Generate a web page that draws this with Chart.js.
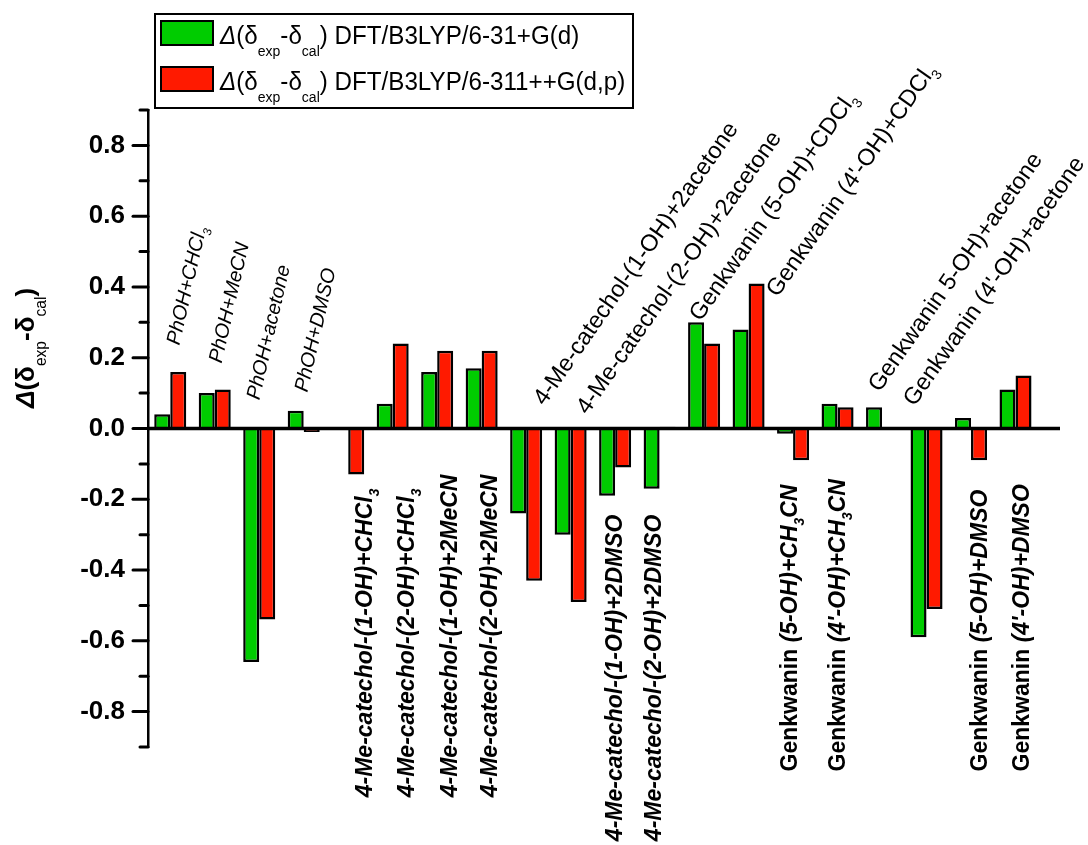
<!DOCTYPE html>
<html>
<head>
<meta charset="utf-8">
<script src="https://cdn.jsdelivr.net/npm/chart.js@4.4.1/dist/chart.umd.min.js"></script>
<style>
  html, body { margin: 0; padding: 0; background: #fff; }
  #wrap { width: 1088px; height: 845px; position: relative; }
</style>
</head>
<body>
<div id="wrap"><canvas id="chart"></canvas></div>
<script>
const FONT = '"Liberation Sans", Arial, sans-serif';

// data
const categories = [
  'PhOH+CHCl₃', 'PhOH+MeCN', 'PhOH+acetone', 'PhOH+DMSO',
  '4-Me-catechol-(1-OH)+CHCl₃', '4-Me-catechol-(2-OH)+CHCl₃',
  '4-Me-catechol-(1-OH)+2MeCN', '4-Me-catechol-(2-OH)+2MeCN',
  '4-Me-catechol-(1-OH)+2acetone', '4-Me-catechol-(2-OH)+2acetone',
  '4-Me-catechol-(1-OH)+2DMSO', '4-Me-catechol-(2-OH)+2DMSO',
  'Genkwanin (5-OH)+CDCl₃', "Genkwanin (4'-OH)+CDCl₃",
  'Genkwanin (5-OH)+CH₃CN', "Genkwanin (4'-OH)+CH₃CN",
  'Genkwanin 5-OH)+acetone', "Genkwanin (4'-OH)+acetone",
  'Genkwanin (5-OH)+DMSO', "Genkwanin (4'-OH)+DMSO"
];
const b3lyp631 = [0.04, 0.10, -0.66, 0.05, null, 0.07, 0.16, 0.17, -0.24, -0.30,
                  -0.19, -0.17, 0.30, 0.28, -0.015, 0.07, 0.06, -0.59, 0.03, 0.11];
const b3lyp6311 = [0.16, 0.11, -0.54, -0.01, -0.13, 0.24, 0.22, 0.22, -0.43, -0.49,
                   -0.11, 0.005, 0.24, 0.41, -0.09, 0.06, null, -0.51, -0.09, 0.15];
const yMin = -0.9, yMax = 0.9, yStep = 0.1;

// where each category label sits: [offset in categories, y value, angle, style]
const labelSpots = [
  [0.20, 0.234, -77, 'ph'], [0.15, 0.183, -77, 'ph'], [0.00, 0.079, -77, 'ph'], [0.08, 0.101, -77, 'ph'],
  [0.54, -1.042, -90, 'cv'], [0.49, -1.042, -90, 'cv'], [0.45, -1.042, -90, 'cv'], [0.35, -1.042, -90, 'cv'],
  [0.41, 0.062, -55, 'an'], [0.38, 0.037, -55, 'an'],
  [0.16, -1.166, -90, 'cv'], [0.04, -1.166, -90, 'cv'],
  [-0.08, 0.300, -55, 'an'], [0.65, 0.369, -55, 'an'],
  [0.08, -0.969, -90, 'gv'], [0.16, -0.969, -90, 'gv'],
  [-0.06, 0.100, -55, 'an'], [-0.27, 0.060, -55, 'an'],
  [0.35, -0.969, -90, 'gv'], [0.31, -0.969, -90, 'gv']
];
const labelStyles = {
  ph: { size: 20, bold: false, italic: true },
  cv: { size: 23, bold: true, italic: true },
  an: { size: 23.5, bold: false, italic: false },
  gv: { size: 23, bold: true, italic: true, upright: 'Genkwanin' }
};

const SUBS = '₀₁₂₃₄₅₆₇₈₉';

function splitSubs(t, bold, italic) {
  const out = [];
  let buf = '';
  for (const ch of t) {
    const k = SUBS.indexOf(ch);
    if (k >= 0) {
      if (buf) out.push({ t: buf, bold, italic });
      buf = '';
      out.push({ t: String(k), bold, italic, sub: true });
    } else buf += ch;
  }
  if (buf) out.push({ t: buf, bold, italic });
  return out;
}

function labelSegs(text, st) {
  if (st.upright && text.startsWith(st.upright)) {
    return splitSubs(st.upright, st.bold, false)
      .concat(splitSubs(text.slice(st.upright.length), st.bold, st.italic));
  }
  return splitSubs(text, st.bold, st.italic);
}

function drawRich(ctx, segs, x, y, angle, opt) {
  ctx.save();
  ctx.translate(x, y);
  ctx.rotate(angle * Math.PI / 180);
  if (opt.sx) ctx.scale(opt.sx, 1);
  ctx.textAlign = 'left';
  ctx.textBaseline = 'alphabetic';
  ctx.fillStyle = '#000';
  let cx = 0;
  segs.forEach(s => {
    const size = s.sub ? opt.size * opt.subSize : opt.size;
    ctx.font = (s.italic ? 'italic ' : '') + (s.bold ? 'bold ' : '') + size + 'px ' + FONT;
    ctx.fillText(s.t, cx, s.sub ? opt.size * opt.subDrop : 0);
    cx += ctx.measureText(s.t).width;
  });
  ctx.restore();
}

const extras = {
  id: 'extras',
  afterDatasetsDraw(chart) {
    const { ctx, chartArea, scales: { y } } = chart;
    const y0 = y.getPixelForValue(0);
    ctx.save();
    ctx.strokeStyle = '#000';
    ctx.lineWidth = 3.5;
    ctx.beginPath();
    ctx.moveTo(chartArea.left, y0);
    ctx.lineTo(chartArea.right, y0);
    ctx.stroke();
    // ticks: long on the labelled values, short between
    ctx.lineWidth = 3;
    ctx.lineCap = 'round';
    y.ticks.forEach(t => {
      const py = y.getPixelForValue(t.value);
      const len = Math.round(t.value * 10) % 2 === 0 ? 15 : 8;
      ctx.beginPath();
      ctx.moveTo(chartArea.left - len, py);
      ctx.lineTo(chartArea.left, py);
      ctx.stroke();
    });
    ctx.restore();
  },
  afterDraw(chart) {
    const { ctx, scales: { x, y } } = chart;

    categories.forEach((name, i) => {
      const [dx, yv, ang, key] = labelSpots[i];
      const st = labelStyles[key];
      drawRich(ctx, labelSegs(name, st), x.getPixelForValue(i + 1 + dx), y.getPixelForValue(yv), ang,
        { size: st.size, subSize: 0.6, subDrop: 0.3 });
    });

    // y axis title
    drawRich(ctx, [
      { t: 'Δ', bold: true, italic: true }, { t: '(δ', bold: true }, { t: 'exp', sub: true },
      { t: '-δ', bold: true }, { t: 'cal', sub: true }, { t: ')', bold: true }
    ], 34, 408, -90, { size: 26, subSize: 0.6, subDrop: 0.48 });

    // legend
    ctx.save();
    ctx.strokeStyle = '#000';
    ctx.lineWidth = 2;
    ctx.strokeRect(155, 14, 478, 94);
    const ds = chart.data.datasets;
    const rows = [') DFT/B3LYP/6-31+G(d)', ') DFT/B3LYP/6-311++G(d,p)'];
    ds.forEach((d, i) => {
      const top = 21 + i * 46;
      ctx.fillStyle = d.backgroundColor;
      ctx.fillRect(161, top, 52, 24);
      ctx.strokeRect(161, top, 52, 24);
      drawRich(ctx, [
        { t: 'Δ', italic: true }, { t: '(δ' }, { t: 'exp', sub: true },
        { t: '-δ' }, { t: 'cal', sub: true }, { t: rows[i] }
      ], 220, 44 + i * 46, 0, { size: 26, sx: 0.93, subSize: 0.58, subDrop: 0.48 });
    });
    ctx.restore();
  }
};

const toPoints = arr => arr.map((v, i) => ({ x: i + 1, y: v }));

new Chart(document.getElementById('chart'), {
  type: 'bar',
  data: {
    datasets: [
      { label: 'DFT/B3LYP/6-31+G(d)', data: toPoints(b3lyp631), backgroundColor: '#00cc00' },
      { label: 'DFT/B3LYP/6-311++G(d,p)', data: toPoints(b3lyp6311), backgroundColor: '#ff1a00' }
    ]
  },
  options: {
    responsive: true,
    maintainAspectRatio: false,
    animation: false,
    layout: { padding: { top: 110, bottom: 98, right: 28, left: 0 } },
    datasets: {
      bar: {
        borderColor: '#000',
        borderWidth: 2.5,
        categoryPercentage: 0.72,
        barPercentage: 1.0
      }
    },
    plugins: { legend: { display: false }, tooltip: { enabled: false } },
    scales: {
      x: {
        type: 'linear',
        min: 0.5,
        max: 21,
        offset: false,
        display: false,
        grid: { offset: false },
        ticks: { stepSize: 1, includeBounds: false }
      },
      y: {
        min: yMin,
        max: yMax,
        afterFit: s => { s.width = 148; },
        grid: { display: false, drawTicks: false },
        border: { display: true, color: '#000', width: 2.5 },
        ticks: {
          stepSize: yStep,
          padding: 23,
          color: '#000',
          font: { family: FONT, size: 26, weight: 'bold' },
          callback: v => {
            if (Math.round(v * 10) % 2 !== 0) return '';
            return Math.abs(v) < 1e-9 ? '0.0' : v.toFixed(1);
          }
        }
      }
    }
  },
  plugins: [extras]
});
</script>
</body>
</html>
